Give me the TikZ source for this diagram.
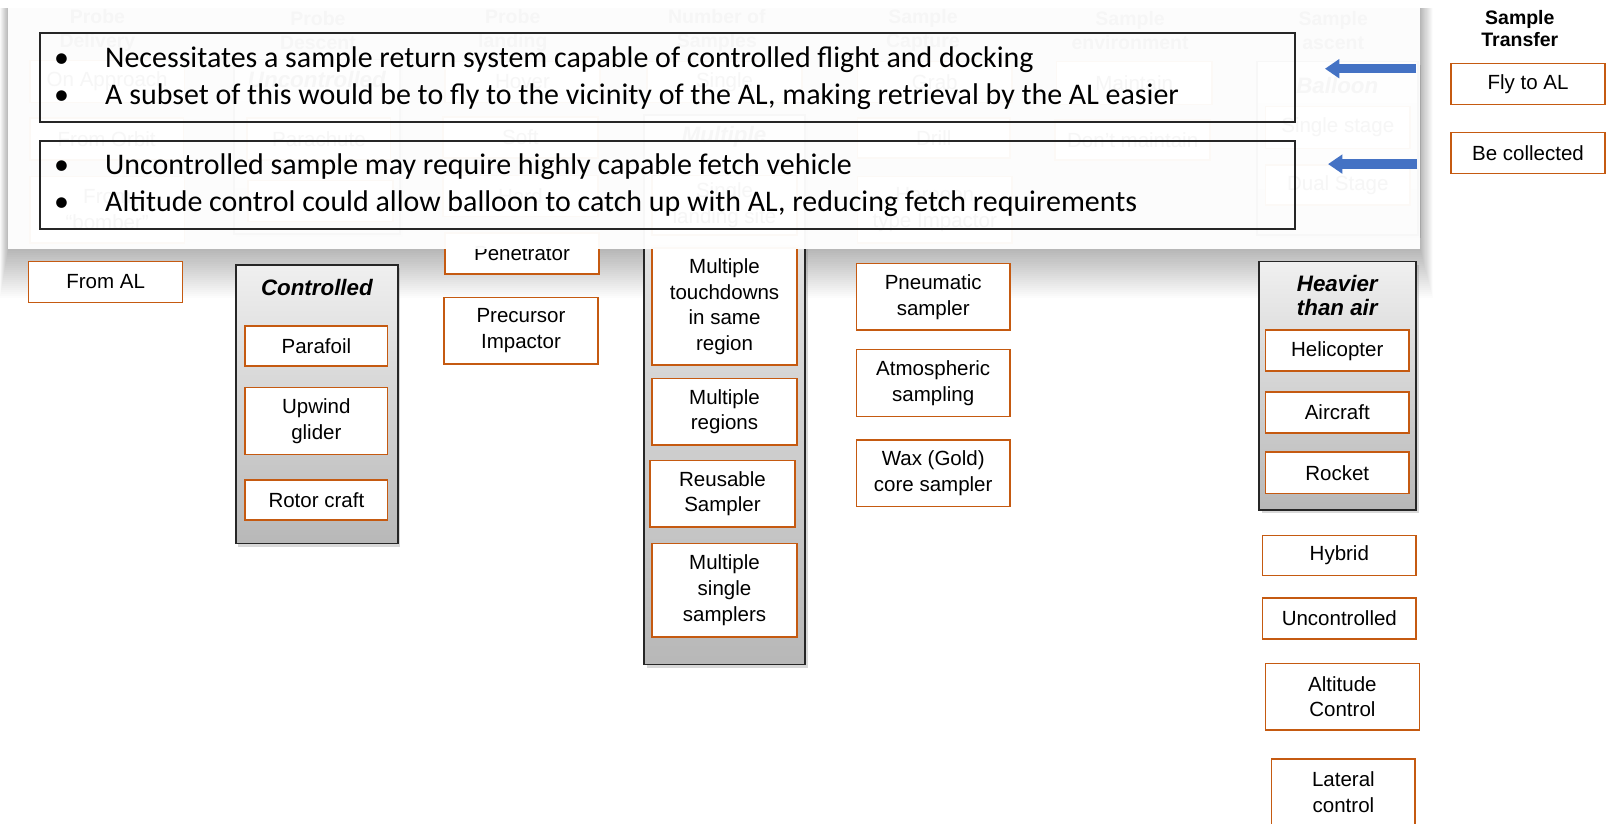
\documentclass[tikz,border=0pt]{standalone}
\usepackage{fontspec}
\setmainfont{Liberation Sans}
\newfontfamily\callfont{Carlito}
\usetikzlibrary{arrows.meta,shadows}
\definecolor{boxc}{RGB}{197,90,17}
\definecolor{arrowblue}{RGB}{68,114,196}
\definecolor{grpline}{RGB}{38,38,38}
\tikzset{
 itembox/.style={draw=boxc, line width=1.5pt, fill=white, align=center, inner sep=0pt, font=\fontsize{20}{25}\selectfont, text=black},
 grpbox/.style={draw=grpline, line width=1.8pt, top color=black!6, bottom color=black!28, inner sep=0pt, drop shadow={shadow xshift=2.5pt, shadow yshift=-3pt, opacity=0.3}},
 grptitle/.style={font=\fontsize{21.8}{24}\selectfont\bfseries\itshape, align=center, inner sep=0pt},
 hdr/.style={font=\fontsize{19}{23.5}\selectfont\bfseries, align=center, inner sep=0pt},
 callbox/.style={draw=black!85, line width=1.6pt},
 calltext/.style={font=\callfont\fontsize{29.2}{34}\selectfont, anchor=base west, inner sep=0pt},
 bul/.style={font=\callfont\fontsize{29.2}{34}\selectfont, anchor=base, inner sep=0pt},
 bluearrow/.style={draw=arrowblue, line width=9pt, -{Triangle[width=18pt,length=14pt]}},
}
\newcommand\ibox[7][]{\node[itembox,#1,minimum width={(#5-#3)*1pt},minimum height={(#6-#4)*1pt}] (#2) at ({(#3+#5)/2},{(#4+#6)/2}) {#7};}
\newcommand\gbox[5]{\node[grpbox,minimum width={(#4-#2)*1pt},minimum height={(#5-#3)*1pt}] (#1) at ({(#2+#4)/2},{(#3+#5)/2}) {};}
\begin{document}
\begin{tikzpicture}[x=1pt,y=-1pt]
\useasboundingbox (0,0) rectangle (1568,803);
\fill[white] (0,0) rectangle (1568,803);
% shadow of the overlay panel
\foreach \i in {1,...,24} {\fill[black, fill opacity=0.013] ({8-0.33*\i},8) rectangle ({1385+0.5*\i},{243+2*\i});}
% ---------- headers (under panel)
\node[hdr] (h1) at (95,29.5) {Probe\\Delivery};
\node[hdr] (h2) at (310,29.5) {Probe\\Descent};
\node[hdr] (h3) at (500,29.5) {Probe\\landing};
\node[hdr] (h4) at (699,29.5) {Number of\\Samples};
\node[hdr] (h5) at (900,29.5) {Sample\\Capture};
\node[hdr] (h6) at (1102,29.5) {Sample\\environment};
\node[hdr] (h7) at (1300,29.5) {Sample\\ascent};
% ---------- column 1
\ibox{onapp}{29}{59}{180}{100}{On Approach}
\ibox{orbit}{29}{115}{179}{156}{From Orbit}
\ibox{bomber}{29}{172}{180}{237}{From\\“bomber”}
\ibox{fromal}{28}{255}{178}{295}{From AL}
% ---------- column 2
\gbox{uncg}{228}{58}{390}{228}
\node[grptitle] (unct) at (309,78) {Uncontrolled};
\ibox{parach}{241}{115}{381}{156}{Parachute}
\ibox{unc2}{242}{176}{383}{216}{}
\gbox{cong}{230}{258}{388}{530}
\node[grptitle] (cont) at (309,280) {Controlled};
\ibox{parafoil}{239}{318}{378}{357}{Parafoil}
\ibox{upwind}{239}{378}{378}{443}{Upwind\\glider}
\ibox{rotor}{239}{468}{378}{507}{Rotor craft}
% ---------- column 3
\ibox{hover}{434}{60}{585}{100}{Hover}
\ibox{soft}{432}{114}{583}{154}{Soft}
\ibox{hard}{432}{171}{583}{211}{Hard}
\ibox{penet}{434}{227}{584}{267}{Penetrator}
\ibox{precur}{433}{290}{583}{355}{Precursor\\Impactor}
% ---------- column 4
\ibox{single}{631}{60}{782}{100}{Single}
\gbox{multg}{628}{112}{785}{648}
\node[grptitle] (multt) at (706,133) {Multiple};
\ibox{singls}{636}{171}{777}{229}{Single\\landing site}
\ibox{touch}{636}{242}{777}{356}{Multiple\\touchdowns\\in same\\region}
\ibox{mregions}{636}{369}{777}{434}{Multiple\\regions}
\ibox{reuse}{634}{449}{775}{514}{Reusable\\Sampler}
\ibox{msingle}{636}{530}{777}{621}{Multiple\\single\\samplers}
% ---------- column 5
\ibox{grab}{836}{60}{987}{100}{Grab}
\ibox{drill}{836}{115}{985}{154}{Drill}
\ibox{harpoon}{836}{172}{987}{237}{Harpoon\\type Impactor}
\ibox{pneu}{835}{257}{985}{322}{Pneumatic\\sampler}
\ibox{atmo}{835}{341}{985}{406}{Atmospheric\\sampling}
\ibox{wax}{835}{429}{985}{494}{Wax (Gold)\\core sampler}
% ---------- column 6
\ibox{maintain}{1030}{60}{1182}{102}{Maintain}
\ibox{dontm}{1029}{117}{1180}{156}{Don’t maintain}
% ---------- column 7
\gbox{balg}{1226}{60}{1383}{229}
\node[grptitle] (balt) at (1304,83) {Balloon};
\ibox{sstage}{1234}{104}{1375}{145}{Single stage}
\ibox{dstage}{1234}{161}{1375}{200}{Dual Stage}
\gbox{heavg}{1228}{255}{1381}{497}
\node[grptitle] (heavt) at (1304,288) {Heavier\\than air};
\ibox{heli}{1234}{322}{1374}{362}{Helicopter}
\ibox{aircraft}{1234}{382}{1374}{422}{Aircraft}
\ibox{rocket}{1234}{441}{1374}{481}{Rocket}
\ibox{hybrid}{1231}{522}{1381}{561}{Hybrid}
\ibox{uncontr}{1231}{583}{1381}{623}{Uncontrolled}
\ibox{altc}{1234}{647}{1384}{712}{Altitude\\Control}
\ibox{latc}{1240}{740}{1380}{805}{Lateral\\control}
% ---------- overlay panel
\fill[white, fill opacity=0.965] (8,-5) rectangle (1385,243);
\node[callbox, minimum width=1224pt, minimum height=87pt, inner sep=0pt] (cb1) at (651,75.5) {};
\node[callbox, minimum width=1224pt, minimum height=85.5pt, inner sep=0pt] (cb2) at (651,180.25) {};
\node[bul] (b1) at (60,65.8) {•};
\node[calltext] (t1) at (102.4,65.8) {Necessitates a sample return system capable of controlled flight and docking};
\node[bul] (b2) at (60,101.5) {•};
\node[calltext] (t2) at (102.4,101.5) {A subset of this would be to fly to the vicinity of the AL, making retrieval by the AL easier};
\node[bul] (b3) at (60,170) {•};
\node[calltext] (t3) at (102.4,170) {Uncontrolled sample may require highly capable fetch vehicle};
\node[bul] (b4) at (60,206) {•};
\node[calltext] (t4) at (102.4,206) {Altitude control could allow balloon to catch up with AL, reducing fetch requirements};
% ---------- arrows
\coordinate (a1s) at (1381,67);
\coordinate (a1e) at (1292,67);
\coordinate (a2s) at (1382,160);
\coordinate (a2e) at (1295,160);
\draw[bluearrow] (a1s) -- (a1e);
\draw[bluearrow] (a2s) -- (a2e);
% ---------- sample transfer
\node[font=\fontsize{19}{21}\selectfont\bfseries, align=center, inner sep=0pt] (sth) at (1482,28) {Sample\\Transfer};
\ibox{flyal}{1415}{62}{1565}{102}{Fly to AL}
\ibox{becoll}{1415}{129}{1565}{169}{Be collected}
\end{tikzpicture}
\end{document}
